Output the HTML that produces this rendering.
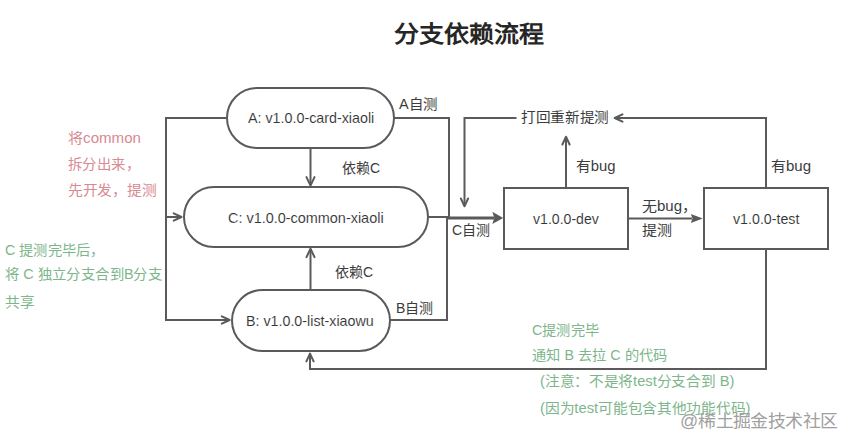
<!DOCTYPE html>
<html lang="zh-CN"><head><meta charset="utf-8">
<style>
html,body{margin:0;padding:0;background:#fff;}
body{width:844px;height:437px;position:relative;overflow:hidden;font-family:"Liberation Sans",sans-serif;}
svg{position:absolute;left:0;top:0;}
.t{position:absolute;white-space:nowrap;line-height:1;color:#3c3c3c;transform-origin:0 0;}
.lat{color:#333;-webkit-text-stroke:0.1px #fff;}
.title{font-weight:bold;color:#262626;}
.red{color:#d88a92;}
.grn{color:#7db68c;}
.wm{color:#a0a0a0;}

</style></head>
<body>
<svg width="844" height="437" viewBox="0 0 844 437">
<rect x="227" y="88" width="167.00" height="60.00" rx="30" fill="none" stroke="#5a5a5a" stroke-width="2"/>
<rect x="184" y="187" width="244.00" height="60.00" rx="30" fill="none" stroke="#5a5a5a" stroke-width="2"/>
<rect x="232" y="290" width="158.00" height="61.00" rx="30.5" fill="none" stroke="#5a5a5a" stroke-width="2"/>
<rect x="504" y="188" width="124.00" height="61.00" rx="0" fill="none" stroke="#5a5a5a" stroke-width="2"/>
<rect x="704" y="188" width="124.00" height="61.00" rx="0" fill="none" stroke="#5a5a5a" stroke-width="2"/>
<path d="M227,118 H166 V320 H230" fill="none" stroke="#5a5a5a" stroke-width="2" />
<path d="M166,217 H182" fill="none" stroke="#5a5a5a" stroke-width="2" />
<path d="M394,118 H449 V217" fill="none" stroke="#5a5a5a" stroke-width="2" />
<path d="M428,217 H448" fill="none" stroke="#5a5a5a" stroke-width="2" />
<path d="M390,320 H447 V217" fill="none" stroke="#5a5a5a" stroke-width="2" />
<path d="M310.5,148 V185" fill="none" stroke="#5a5a5a" stroke-width="2" />
<path d="M310.5,290 V249" fill="none" stroke="#5a5a5a" stroke-width="2" />
<path d="M566,188 V137" fill="none" stroke="#5a5a5a" stroke-width="2" />
<path d="M766,188 V118 H614" fill="none" stroke="#5a5a5a" stroke-width="2" />
<path d="M516.5,118 H464.5 V206" fill="none" stroke="#5a5a5a" stroke-width="2" />
<path d="M628,218.4 H692" fill="none" stroke="#5a5a5a" stroke-width="2" />
<path d="M766,249 V369 H310 V353" fill="none" stroke="#5a5a5a" stroke-width="2" />
<path d="M173.70,213.40 L181.50,217.00 L173.70,220.60" fill="none" stroke="#5a5a5a" stroke-width="2" stroke-linejoin="round" stroke-linecap="round"/>
<path d="M221.80,316.40 L229.60,320.00 L221.80,323.60" fill="none" stroke="#5a5a5a" stroke-width="2" stroke-linejoin="round" stroke-linecap="round"/>
<path d="M306.50,177.10 L310.50,185.60 L314.50,177.10" fill="none" stroke="#5a5a5a" stroke-width="2" stroke-linejoin="round" stroke-linecap="round"/>
<path d="M306.50,257.10 L310.50,248.60 L314.50,257.10" fill="none" stroke="#5a5a5a" stroke-width="2" stroke-linejoin="round" stroke-linecap="round"/>
<path d="M562.40,144.50 L566.00,136.70 L569.60,144.50" fill="none" stroke="#5a5a5a" stroke-width="2" stroke-linejoin="round" stroke-linecap="round"/>
<path d="M622.50,114.40 L614.70,118.00 L622.50,121.60" fill="none" stroke="#5a5a5a" stroke-width="2" stroke-linejoin="round" stroke-linecap="round"/>
<path d="M460.90,198.50 L464.50,206.30 L468.10,198.50" fill="none" stroke="#5a5a5a" stroke-width="2" stroke-linejoin="round" stroke-linecap="round"/>
<path d="M306.40,361.40 L310.00,353.60 L313.60,361.40" fill="none" stroke="#5a5a5a" stroke-width="2" stroke-linejoin="round" stroke-linecap="round"/>
<path d="M447,218 H494" fill="none" stroke="#5a5a5a" stroke-width="3" />
<path d="M492.3,211.8 L503.2,218 L492.3,224 L494.3,218 Z" fill="#5a5a5a"/>
<path d="M690.8,213.9 L702.8,218.5 L690.8,223.1 L692.5,218.5 Z" fill="#5a5a5a"/>
</svg>
<div id="title" class="t title" style="left:394.00px;top:23.45px;font-size:25px;transform:scale(1.0014,0.8938);">分支依赖流程</div>
<div id="na" class="t lat" style="left:247.97px;top:109.59px;font-size:15px;transform:scale(0.9527,1.0000);">A: v1.0.0-card-xiaoli</div>
<div id="nc" class="t lat" style="left:228.02px;top:210.10px;font-size:15px;transform:scale(0.9621,1.0000);">C: v1.0.0-common-xiaoli</div>
<div id="nb" class="t lat" style="left:246.03px;top:313.40px;font-size:15px;transform:scale(0.9511,1.0000);">B: v1.0.0-list-xiaowu</div>
<div id="nd" class="t lat" style="left:533.36px;top:210.60px;font-size:15px;transform:scale(0.9396,1.0000);">v1.0.0-dev</div>
<div id="nt" class="t lat" style="left:733.36px;top:211.10px;font-size:15px;transform:scale(0.9482,1.0000);">v1.0.0-test</div>
<div id="la" class="t " style="left:398.91px;top:96.55px;font-size:14px;transform:scale(1.0328,1.0000);">A自测</div>
<div id="ly1" class="t " style="left:342.00px;top:160.80px;font-size:14px;">依赖C</div>
<div id="ly2" class="t " style="left:335.00px;top:264.75px;font-size:14px;">依赖C</div>
<div id="lb" class="t " style="left:395.60px;top:301.20px;font-size:14px;transform:scale(1.0019,1.0000);">B自测</div>
<div id="lc" class="t " style="left:452.00px;top:222.50px;font-size:14px;transform:scale(1.0021,1.0000);">C自测</div>
<div id="lr" class="t " style="left:521.30px;top:110.35px;font-size:14px;transform:scale(1.0458,1.0000);">打回重新提测</div>
<div id="lbug1" class="t " style="left:576.00px;top:159.45px;font-size:14px;transform:scale(1.0598,1.0000);">有bug</div>
<div id="lbug2" class="t " style="left:771.00px;top:159.30px;font-size:14px;transform:scale(1.0711,1.0000);">有bug</div>
<div id="lnb" class="t " style="left:642.26px;top:198.55px;font-size:14px;transform:scale(1.0720,1.0000);">无bug，</div>
<div id="ltc" class="t " style="left:642.31px;top:223.10px;font-size:14px;transform:scale(1.0741,1.0000);">提测</div>
<div id="r1" class="t red" style="left:67.69px;top:130.60px;font-size:14px;transform:scale(1.0777,1.0000);">将common</div>
<div id="r2" class="t red" style="left:67.71px;top:157.10px;font-size:14px;transform:scale(1.0273,1.0000);">拆分出来，</div>
<div id="r3" class="t red" style="left:67.69px;top:182.55px;font-size:14px;transform:scale(1.0532,1.0000);">先开发，提测</div>
<div id="g1" class="t grn" style="left:4.90px;top:243.05px;font-size:14px;transform:scale(1.0162,1.0000);">C 提测完毕后，</div>
<div id="g2" class="t grn" style="left:4.91px;top:267.40px;font-size:14px;transform:scale(1.0261,1.0000);">将 C 独立分支合到B分支</div>
<div id="g3" class="t grn" style="left:5.00px;top:295.05px;font-size:14px;transform:scale(1.0514,1.0000);">共享</div>
<div id="b1" class="t grn" style="left:531.57px;top:323.45px;font-size:14px;transform:scale(1.0156,1.0000);">C提测完毕</div>
<div id="b2" class="t grn" style="left:531.60px;top:347.65px;font-size:14px;transform:scale(1.0166,1.0000);">通知 B 去拉 C 的代码</div>
<div id="b3" class="t grn" style="left:540.00px;top:374.20px;font-size:14px;transform:scale(1.0498,1.0000);">(注意：不是将test分支合到 B)</div>
<div id="b4" class="t grn" style="left:540.00px;top:400.60px;font-size:14px;transform:scale(1.0520,1.0000);">(因为test可能包含其他功能代码)</div>
<div id="wm" class="t wm" style="left:680.11px;top:413.00px;font-size:17.5px;transform:scale(1.0246,1.0000);">@稀土掘金技术社区</div>
</body></html>
